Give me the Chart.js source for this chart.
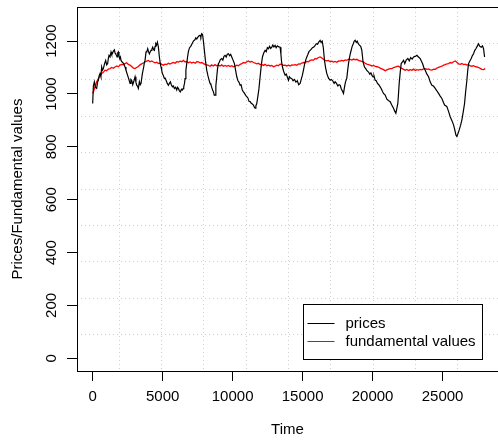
<!DOCTYPE html>
<html lang="en">
<head>
<meta charset="UTF-8">
<title>Prices / Fundamental values</title>
<script src="https://cdn.jsdelivr.net/npm/chart.js"></script>
<style>
  html, body { margin: 0; padding: 0; background: #fff; }
</style>
</head>
<body>
<canvas id="chart" width="498" height="440"></canvas>
<script>
// values
const priceTime = [
  0, 50, 120, 200, 286, 350, 405, 470, 524, 590, 643, 700, 763, 850, 929, 1000, 1072, 1120, 1168, 1240,
  1311, 1360, 1406, 1480, 1549, 1600, 1644, 1700, 1740, 1790, 1835, 1880, 1930, 1980, 2026, 2120, 2216, 2312, 2380, 2455,
  2560, 2669, 2730, 2788, 2860, 2931, 3027, 3090, 3146, 3200, 3265, 3336, 3400, 3455, 3551, 3646, 3700, 3741, 3813, 3870,
  3932, 3990, 4051, 4110, 4170, 4230, 4289, 4350, 4408, 4460, 4504, 4560, 4623, 4695, 4766, 4830, 4885, 4930, 4981, 5050,
  5123, 5180, 5243, 5330, 5410, 5480, 5553, 5620, 5695, 5770, 5838, 5920, 6005, 6060, 6124, 6200, 6267, 6340, 6410, 6460,
  6506, 6560, 6601, 6660, 6720, 6780, 6839, 6920, 7006, 7100, 7197, 7300, 7370, 7435, 7520, 7600, 7673, 7730, 7792, 7850,
  7912, 7990, 8060, 8150, 8230, 8300, 8388, 8450, 8507, 8570, 8627, 8690, 8746, 8800, 8865, 8920, 8984, 9050, 9120, 9222,
  9300, 9380, 9460, 9540, 9620, 9699, 9780, 9860, 9937, 10030, 10128, 10210, 10295, 10380, 10450, 10533, 10600, 10690, 10771, 10850,
  10930, 11010, 11090, 11170, 11248, 11330, 11410, 11486, 11550, 11605, 11660, 11724, 11800, 11880, 11963, 12050, 12130, 12220, 12320, 12400,
  12480, 12559, 12640, 12720, 12797, 12870, 12950, 13035, 13110, 13200, 13300, 13393, 13450, 13500, 13559, 13650, 13750, 13830, 13900, 13988,
  14060, 14130, 14227, 14320, 14420, 14520, 14620, 14720, 14822, 14900, 14980, 15060, 15150, 15230, 15299, 15380, 15450, 15537, 15620, 15700,
  15800, 15895, 15980, 16070, 16150, 16252, 16320, 16400, 16480, 16562, 16640, 16729, 16850, 16967, 17050, 17150, 17250, 17325, 17420, 17520,
  17600, 17682, 17760, 17850, 17920, 17990, 18060, 18158, 18220, 18278, 18360, 18420, 18468, 18540, 18620, 18690, 18754, 18830, 18900, 18980,
  19060, 19150, 19231, 19320, 19422, 19520, 19600, 19708, 19800, 19880, 19946, 20030, 20100, 20184, 20260, 20350, 20440, 20542, 20620, 20700,
  20780, 20899, 21018, 21130, 21256, 21370, 21495, 21580, 21662, 21730, 21805, 21850, 21900, 21970, 22043, 22120, 22210, 22300, 22400, 22519,
  22620, 22720, 22830, 22925, 23040, 23163, 23280, 23401, 23480, 23568, 23660, 23759, 23880, 23997, 24120, 24235, 24350, 24473, 24590, 24712,
  24830, 24950, 25050, 25141, 25230, 25307, 25420, 25546, 25660, 25784, 25870, 25951, 26022, 26100, 26189, 26290, 26380, 26470, 26570, 26650,
  26737, 26800, 26857, 26950, 27047, 27130, 27214, 27300, 27381, 27470, 27571, 27660, 27762, 27850, 27929, 28000];
const prices = [
  964, 1030, 1046, 1025, 1021, 1045, 1052, 1070, 1077, 1065, 1102, 1090, 1096, 1115, 1127, 1110, 1115, 1135, 1146, 1140,
  1159, 1150, 1152, 1162, 1167, 1155, 1152, 1145, 1140, 1155, 1159, 1145, 1134, 1140, 1127, 1120, 1115, 1102, 1090, 1077,
  1060, 1040, 1055, 1052, 1035, 1046, 1065, 1045, 1033, 1030, 1021, 1046, 1035, 1040, 1077, 1102, 1120, 1127, 1159, 1160,
  1171, 1160, 1152, 1160, 1165, 1170, 1177, 1168, 1165, 1180, 1190, 1185, 1196, 1177, 1140, 1115, 1102, 1090, 1077, 1070,
  1058, 1060, 1052, 1040, 1033, 1040, 1046, 1035, 1027, 1030, 1021, 1025, 1015, 1025, 1021, 1012, 1008, 1018, 1015, 1020,
  1027, 1040, 1058, 1090, 1115, 1140, 1160, 1175, 1180, 1190, 1200, 1205, 1212, 1208, 1215, 1220, 1222, 1215, 1228, 1225,
  1200, 1160, 1125, 1090, 1070, 1055, 1040, 1035, 1025, 1015, 1008, 995, 996, 1030, 1065, 1095, 1115, 1120, 1130, 1134,
  1128, 1142, 1146, 1140, 1150, 1152, 1145, 1150, 1140, 1128, 1115, 1090, 1065, 1050, 1045, 1033, 1035, 1015, 1008, 1002,
  995, 990, 985, 972, 971, 965, 962, 958, 950, 946, 955, 964, 990, 1020, 1065, 1110, 1140, 1155, 1165, 1160,
  1175, 1171, 1180, 1172, 1177, 1185, 1178, 1184, 1175, 1182, 1178, 1177, 1150, 1120, 1102, 1085, 1071, 1075, 1065, 1052,
  1065, 1060, 1058, 1050, 1055, 1045, 1050, 1035, 1040, 1055, 1070, 1090, 1115, 1130, 1140, 1150, 1160, 1165, 1170, 1175,
  1178, 1184, 1190, 1188, 1196, 1203, 1195, 1200, 1175, 1127, 1100, 1077, 1060, 1052, 1055, 1050, 1040, 1046, 1040, 1030,
  1035, 1033, 1020, 1010, 1002, 1025, 1045, 1060, 1090, 1115, 1140, 1155, 1165, 1180, 1190, 1200, 1203, 1195, 1200, 1190,
  1185, 1180, 1165, 1120, 1102, 1095, 1088, 1083, 1075, 1080, 1071, 1065, 1068, 1052, 1050, 1040, 1035, 1027, 1020, 1010,
  1002, 996, 980, 975, 971, 958, 946, 935, 927, 945, 965, 1000, 1040, 1080, 1115, 1120, 1127, 1115, 1128, 1134,
  1125, 1138, 1132, 1140, 1142, 1146, 1140, 1134, 1125, 1115, 1100, 1090, 1075, 1065, 1045, 1033, 1030, 1021, 1012, 1002,
  992, 983, 970, 958, 955, 952, 935, 914, 900, 883, 865, 845, 839, 850, 864, 882, 902, 930, 964, 1010,
  1052, 1090, 1115, 1125, 1134, 1145, 1152, 1165, 1171, 1180, 1190, 1180, 1177, 1182, 1171, 1140];

const fundTime = [
  0, 80, 167, 280, 405, 520, 643, 760, 882, 1000, 1120, 1239, 1360, 1480, 1597, 1720, 1840, 1954, 2080, 2200,
  2312, 2430, 2550, 2669, 2790, 2910, 3027, 3140, 3260, 3380, 3500, 3622, 3740, 3860, 3980, 4100, 4220, 4337, 4460, 4580,
  4695, 4810, 4930, 5052, 5170, 5290, 5410, 5530, 5650, 5767, 5890, 6005, 6124, 6250, 6370, 6482, 6601, 6720, 6840, 6960,
  7078, 7200, 7320, 7440, 7554, 7680, 7800, 7920, 8031, 8150, 8270, 8388, 8500, 8620, 8740, 8860, 8984, 9100, 9220, 9340,
  9460, 9580, 9700, 9820, 9940, 10060, 10176, 10300, 10420, 10540, 10652, 10780, 10900, 11010, 11128, 11250, 11370, 11490, 11605, 11720,
  11840, 11960, 12082, 12200, 12320, 12440, 12559, 12680, 12800, 12920, 13035, 13150, 13270, 13390, 13512, 13630, 13750, 13870, 13988, 14110,
  14230, 14346, 14470, 14590, 14710, 14830, 14942, 15060, 15180, 15300, 15420, 15537, 15660, 15780, 15895, 16010, 16130, 16252, 16370, 16490,
  16610, 16730, 16850, 16970, 17090, 17205, 17320, 17440, 17560, 17680, 17801, 17920, 18040, 18160, 18280, 18397, 18520, 18640, 18760, 18873,
  18990, 19110, 19230, 19350, 19470, 19590, 19710, 19827, 19950, 20070, 20190, 20310, 20422, 20540, 20660, 20780, 20899, 21020, 21140, 21256,
  21376, 21500, 21620, 21740, 21852, 21970, 22090, 22210, 22329, 22450, 22570, 22690, 22806, 22930, 23050, 23160, 23282, 23400, 23520, 23640,
  23759, 23880, 24000, 24120, 24235, 24360, 24480, 24600, 24720, 24840, 24950, 25070, 25190, 25310, 25427, 25550, 25660, 25780, 25903, 26020,
  26140, 26260, 26380, 26500, 26620, 26737, 26860, 26980, 27095, 27220, 27340, 27460, 27571, 27690, 27810, 27929, 28047];
const fundamental = [
  1002, 1012, 1027, 1045, 1058, 1068, 1077, 1082, 1090, 1088, 1094, 1096, 1100, 1097, 1102, 1106, 1103, 1109, 1112, 1110,
  1115, 1118, 1112, 1109, 1104, 1098, 1096, 1100, 1104, 1110, 1114, 1117, 1121, 1124, 1127, 1122, 1125, 1121, 1118, 1120,
  1115, 1117, 1112, 1109, 1113, 1111, 1116, 1113, 1117, 1119, 1116, 1122, 1121, 1124, 1122, 1127, 1121, 1123, 1118, 1121,
  1117, 1120, 1116, 1122, 1121, 1118, 1119, 1115, 1112, 1110, 1108, 1105, 1110, 1106, 1111, 1107, 1109, 1106, 1110, 1105,
  1108, 1105, 1108, 1104, 1107, 1103, 1105, 1109, 1107, 1112, 1115, 1119, 1117, 1122, 1125, 1121, 1123, 1119, 1117, 1114,
  1116, 1111, 1112, 1108, 1112, 1107, 1109, 1106, 1108, 1103, 1105, 1109, 1107, 1113, 1112, 1108, 1109, 1106, 1109, 1106,
  1110, 1109, 1111, 1109, 1114, 1113, 1117, 1119, 1118, 1123, 1122, 1127, 1129, 1128, 1134, 1133, 1138, 1140, 1136, 1131,
  1127, 1125, 1127, 1122, 1124, 1121, 1123, 1120, 1125, 1124, 1127, 1125, 1129, 1127, 1132, 1131, 1128, 1132, 1129, 1131,
  1127, 1125, 1123, 1121, 1116, 1113, 1111, 1109, 1106, 1108, 1104, 1103, 1102, 1098, 1095, 1092, 1088, 1091, 1094, 1096,
  1096, 1100, 1102, 1104, 1105, 1100, 1097, 1093, 1090, 1093, 1089, 1092, 1090, 1094, 1089, 1092, 1090, 1093, 1091, 1095,
  1096, 1093, 1095, 1091, 1090, 1094, 1093, 1098, 1101, 1103, 1105, 1109, 1111, 1114, 1115, 1119, 1117, 1122, 1125, 1120,
  1114, 1112, 1115, 1111, 1113, 1109, 1111, 1106, 1105, 1107, 1103, 1102, 1100, 1097, 1093, 1092, 1096];

const seriesLabels = ['prices', 'fundamental values'];
const seriesColors = ['#000000', '#ff0000'];
const xTicks = [0, 5000, 10000, 15000, 20000, 25000];
const yTicks = [0, 200, 400, 600, 800, 1000, 1200];

// R style limits (data range + 4%), grid() splits them in 10
const xLim = [-1120, 29120];
const yLim = [-48, 1329];
const xShown = 28960;   // right edge of the plot falls just past the canvas
const gridX = [], gridY = [];
for (let k = 1; k < 10; k++) {
  gridX.push(xLim[0] + k * (xLim[1] - xLim[0]) / 10);
  gridY.push(yLim[0] + k * (yLim[1] - yLim[0]) / 10);
}

const font = { family: "'Liberation Sans', Arial, sans-serif", size: 15 };

function toPoints(xs, ys) {
  return xs.map((x, i) => ({ x: x, y: ys[i] }));
}

// legend box in the bottom right corner, like R's legend()
const legendBox = {
  id: 'legendBox',
  afterDraw(chart) {
    const ctx = chart.ctx;
    const ca = chart.chartArea;
    const w = 179, h = 55;
    const left = Math.round(ca.right - 16 - w) + 0.5;
    const top = Math.round(ca.bottom - 12 - h) + 0.5;
    ctx.save();
    ctx.fillStyle = '#fff';
    ctx.fillRect(left, top, w, h);
    ctx.strokeStyle = '#000';
    ctx.lineWidth = 1;
    ctx.strokeRect(left, top, w, h);
    ctx.font = '15px ' + font.family;
    ctx.textBaseline = 'middle';
    ctx.textAlign = 'left';
    seriesLabels.forEach((label, i) => {
      const y = Math.floor(top + 18.5 + i * 18.5) + 0.5;
      ctx.strokeStyle = seriesColors[i];
      ctx.lineWidth = 1;
      ctx.beginPath();
      ctx.moveTo(left + 4, y);
      ctx.lineTo(left + 31, y);
      ctx.stroke();
      ctx.fillStyle = '#000';
      ctx.fillText(label, left + 42, y);
    });
    ctx.restore();
  }
};

new Chart(document.getElementById('chart'), {
  type: 'line',
  data: {
    datasets: [
      {
        label: seriesLabels[0],
        data: toPoints(priceTime, prices),
        borderColor: seriesColors[0],
        borderWidth: 1.2,
        pointRadius: 0,
        tension: 0
      },
      {
        label: seriesLabels[1],
        data: toPoints(fundTime, fundamental),
        borderColor: seriesColors[1],
        borderWidth: 1.3,
        pointRadius: 0,
        tension: 0
      }
    ]
  },
  options: {
    responsive: false,
    animation: false,
    devicePixelRatio: 1,
    layout: { padding: { top: 5, left: 0, right: 0, bottom: 0 } },
    plugins: {
      legend: { display: false },
      tooltip: { enabled: false }
    },
    scales: {
      x: {
        type: 'linear',
        position: 'bottom',
        min: xLim[0],
        max: xShown,
        afterBuildTicks: s => { s.ticks = xTicks.map(v => ({ value: v })); },
        afterFit: s => { s.height = 69; },
        grid: { drawOnChartArea: false, drawTicks: true, tickLength: 10, tickColor: '#000', color: '#000' },
        border: { display: true, color: '#000', width: 1 },
        ticks: { color: '#000', font: font, padding: 7, maxRotation: 0, autoSkip: false, callback: v => String(v) },
        title: { display: true, text: 'Time', color: '#000', font: font, padding: { top: 0, bottom: 1 } }
      },
      xGrid: {
        type: 'linear',
        position: 'top',
        min: xLim[0],
        max: xShown,
        afterBuildTicks: s => { s.ticks = gridX.map(v => ({ value: v })); },
        afterFit: s => { s.height = 0; },
        grid: { drawOnChartArea: true, drawTicks: false, color: '#cfcfcf', lineWidth: 1 },
        border: { display: true, color: '#000', width: 1, dash: [1, 3] },
        ticks: { display: false }
      },
      y: {
        type: 'linear',
        position: 'left',
        min: yLim[0],
        max: yLim[1],
        afterBuildTicks: s => { s.ticks = yTicks.map(v => ({ value: v })); },
        afterFit: s => { s.width = 77; },
        grid: { drawOnChartArea: false, drawTicks: true, tickLength: 10, tickColor: '#000', color: '#000' },
        border: { display: true, color: '#000', width: 1 },
        ticks: { color: '#000', font: font, padding: -2, minRotation: 90, maxRotation: 90, crossAlign: 'center', autoSkip: false, callback: v => String(v) },
        title: { display: true, text: 'Prices/Fundamental values', color: '#000', font: font, padding: { top: 9, bottom: 0 } }
      },
      yGrid: {
        type: 'linear',
        position: 'right',
        min: yLim[0],
        max: yLim[1],
        afterBuildTicks: s => { s.ticks = gridY.map(v => ({ value: v })); },
        afterFit: s => { s.width = 0; },
        grid: { drawOnChartArea: true, drawTicks: false, color: '#cfcfcf', lineWidth: 1 },
        border: { display: false, dash: [1, 3] },
        ticks: { display: false }
      }
    }
  },
  plugins: [legendBox]
});
</script>
</body>
</html>
